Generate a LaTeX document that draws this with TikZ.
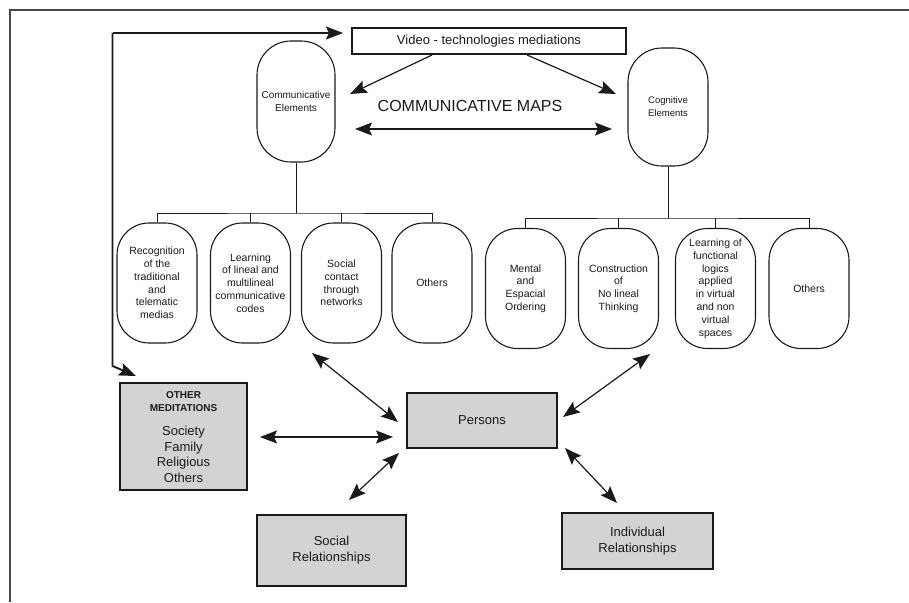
\documentclass[tikz,border=0pt]{standalone}
\usepackage{fontspec}
\setmainfont{Liberation Sans}
\usetikzlibrary{arrows.meta}
\definecolor{boxgray}{HTML}{D2D3D5}
\definecolor{ink}{HTML}{1A1A1A}
\begin{document}
\begin{tikzpicture}[x=1pt,y=-1pt,
  every node/.style={inner sep=0pt, align=center, text=ink},
  con/.style={draw=ink, line width=1.2pt},
  sarrow/.style={-{Stealth[length=17pt,width=13pt,inset=3pt]}},
  darrow/.style={{Stealth[length=17pt,width=13pt,inset=3pt]}-{Stealth[length=17pt,width=13pt,inset=3pt]}},
  pill/.style={draw=ink, line width=1.1pt, rounded corners=32pt, minimum width=80pt, minimum height=120pt, font=\fontsize{10.5}{12.8}\selectfont},
  tallpill/.style={draw=ink, line width=1.1pt, rounded corners=34pt, minimum width=79pt, minimum height=120pt},
  gbox/.style={draw=ink, line width=1.3pt, fill=boxgray, font=\fontsize{13}{16}\selectfont},
  tree/.style={draw=ink, line width=1pt},
]
\useasboundingbox (0,0) rectangle (909,602);
% frame
\draw[draw=ink!80, line width=1.3pt] (10,602) -- (10,10) -- (909,10);

% top
\node[draw=ink, line width=1.1pt, minimum width=274pt, minimum height=26pt, font=\fontsize{13}{15}\selectfont] (video) at (489,41) {Video - technologies mediations};
\node[tallpill, minimum width=78pt, minimum height=121pt, font=\fontsize{10}{12.5}\selectfont] (comm) at (296,101.5) {Communicative\\Elements};
\node[tallpill, minimum width=80pt, minimum height=118pt, font=\fontsize{9.5}{13}\selectfont] (cog) at (668,107) {Cognitive\\Elements};
\node[font=\fontsize{16}{18}\selectfont] (maps) at (470,106) {COMMUNICATIVE MAPS};

% communicative children
\node[pill] (b1) at (157,283) {Recognition\\of the\\traditional\\and\\telematic\\medias};
\node[pill] (b2) at (250.5,283) {Learning\\of lineal and\\multilineal\\communicative\\codes};
\node[pill] (b3) at (341.5,283) {Social\\contact\\through\\networks};
\node[pill] (b4) at (432,283) {Others};

% cognitive children
\node[pill] (b5) at (525.5,288.5) {Mental\\and\\Espacial\\Ordering};
\node[pill] (b6) at (618.5,288.5) {Construction\\of\\No lineal\\Thinking};
\node[pill] (b7) at (715.5,288.5) {Learning of\\functional\\logics\\applied\\in virtual\\and non\\virtual\\spaces};
\node[pill] (b8) at (809,288.5) {Others};

% gray boxes
\node[gbox, minimum width=127pt, minimum height=107pt] (other) at (183.5,436.5) {};
\node[font=\fontsize{10}{13}\selectfont\bfseries] (othertitle) at (183.5,401.5) {OTHER\\MEDITATIONS};
\node[font=\fontsize{13}{15.6}\selectfont] (otherlist) at (183.5,454.5) {Society\\Family\\Religious\\Others};
\node[gbox, minimum width=150pt, minimum height=55pt] (persons) at (482,420.5) {Persons};
\node[gbox, minimum width=149pt, minimum height=71pt] (social) at (331.5,550.5) {Social\\Relationships};
\node[gbox, minimum width=151pt, minimum height=56pt] (indiv) at (637.5,541) {Individual\\Relationships};

% tree connectors
\coordinate (cj) at (296,213);
\coordinate (gj) at (668,218);
\draw[tree] (comm.south) -- (cj);
\draw[tree] (b1.north) |- (cj) -| (b4.north);
\draw[tree] (b2.north) -- (b2.north |- cj);
\draw[tree] (b3.north) -- (b3.north |- cj);
\draw[tree] (cog.south) -- (gj);
\draw[tree] (b5.north) |- (gj) -| (b8.north);
\draw[tree] (b6.north) -- (b6.north |- gj);
\draw[tree] (b7.north) -- (b7.north |- gj);

% arrows at top
\coordinate (v1) at (432,55);
\coordinate (v1t) at (350,94);
\coordinate (v2) at (527,55);
\coordinate (v2t) at (616,94);
\draw[con, sarrow] (v1) -- (v1t);
\draw[con, sarrow] (v2) -- (v2t);
\coordinate (m1) at (355,129);
\coordinate (m2) at (612,129);
\draw[con, darrow] (m1) -- (m2);

% loop line
\coordinate (l0) at (112.5,33);
\coordinate (l1) at (112.5,366);
\coordinate (lt) at (136,376);
\coordinate (vt) at (343,33);
\draw[draw=ink, line width=1.9pt, sarrow] (l0) -- (vt);
\draw[draw=ink, line width=1.9pt, sarrow] (l0) -- (l1) -- (lt);

% persons arrows
\coordinate (p1a) at (312,353);
\coordinate (p1b) at (398,422);
\coordinate (p2a) at (260,437);
\coordinate (p2b) at (393,437);
\coordinate (p3a) at (399,453);
\coordinate (p3b) at (349,500);
\coordinate (p4a) at (563,417);
\coordinate (p4b) at (650,354);
\coordinate (p5a) at (565,448);
\coordinate (p5b) at (617,503);
\draw[con, darrow] (p1a) -- (p1b);
\draw[con, darrow] (p2a) -- (p2b);
\draw[con, darrow] (p3a) -- (p3b);
\draw[con, darrow] (p4a) -- (p4b);
\draw[con, darrow] (p5a) -- (p5b);
\end{tikzpicture}
\end{document}
